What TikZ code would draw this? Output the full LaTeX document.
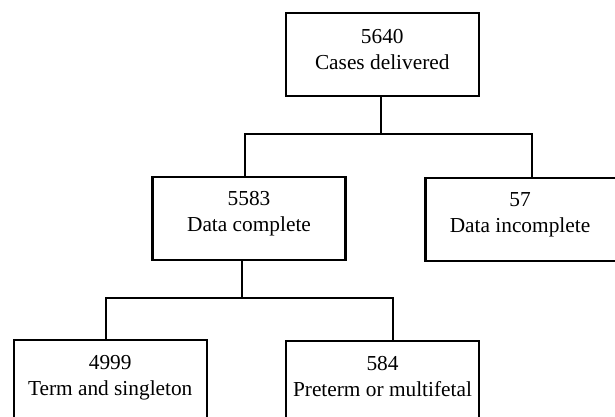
\documentclass[tikz,border=0pt]{standalone}
\usepackage{fontspec}
\setmainfont{Liberation Serif}
\begin{document}
\begin{tikzpicture}[x=0.75pt,y=-0.75pt,
  box/.style={draw,line width=1.6pt,inner sep=0pt,minimum width=144.75pt,minimum height=62.25pt},
  lbl/.style={align=center,font=\fontsize{16}{19.5}\selectfont,inner sep=0pt},
  conn/.style={line width=1.5pt}]
\clip (0,0) rectangle (615,417);
\fill[white] (0,0) rectangle (615,417);
% boxes
\node[box] (top) at (382.25,54.2) {};
\node[box] (dc) at (249,218.7) {};
\node[box] (di) at (522,219.5) {};
\node[box] (ts) at (110.2,381.5) {};
\node[box] (pm) at (382.5,382.2) {};
% labels
\node[lbl] (topt) at ([yshift=3.75pt]top.center) {5640\\Cases delivered};
\node[lbl] (dct) at ([yshift=3.75pt]dc.center) {5583\\Data complete};
\node[lbl] (dit) at ([xshift=-1.5pt,yshift=3.75pt]di.center) {57\\Data incomplete};
\node[lbl] (tst) at ([yshift=3pt]ts.center) {4999\\Term and singleton};
\node[lbl] (pmt) at ([yshift=4pt]pm.center) {584\\Preterm or multifetal};
% connectors
\draw[conn] ([xshift=-0.75pt]top.south) -- ++(0,37.5) coordinate (j1);
\draw[conn] (j1) -| ([xshift=-3pt]dc.north);
\draw[conn] (j1) -| ([xshift=7.5pt]di.north);
\draw[conn] ([xshift=-5.25pt]dc.south) -- ++(0,37) coordinate (j2);
\draw[conn] (j2) -| ([xshift=-3pt]ts.north);
\draw[conn] (j2) -| ([xshift=8pt]pm.north);
\end{tikzpicture}
\end{document}
